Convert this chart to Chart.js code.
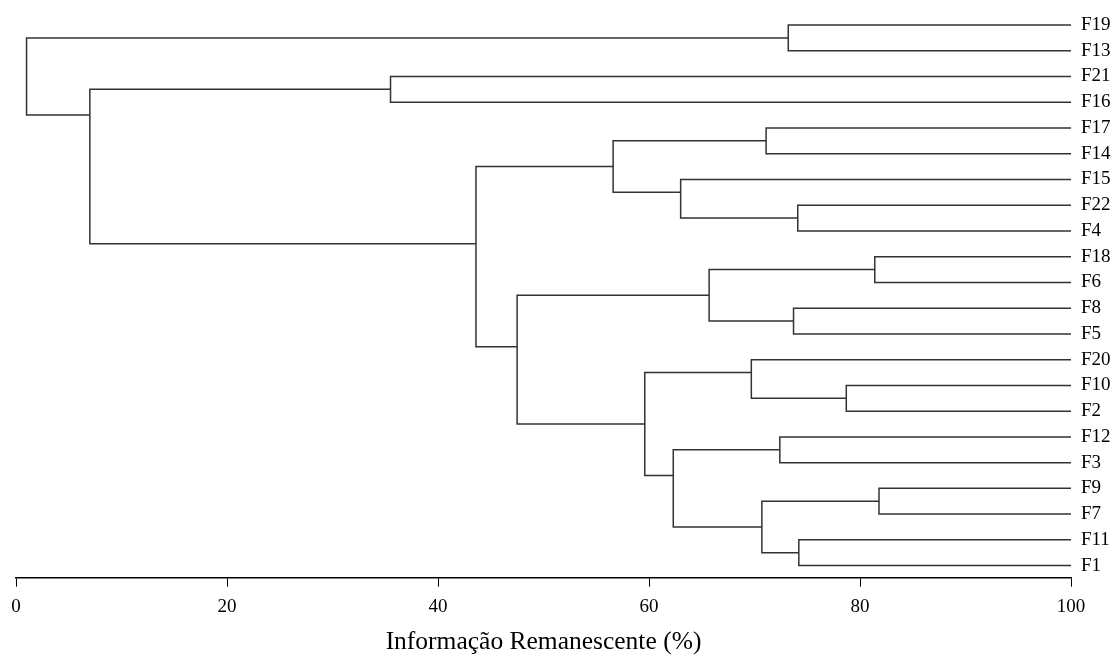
<!DOCTYPE html>
<html>
<head>
<meta charset="utf-8">
<script src="https://cdn.jsdelivr.net/npm/chart.js@4"></script>
<style>
  html, body { margin: 0; padding: 0; background: #fff; }
  #wrap { width: 1116px; height: 655px; position: relative; }
</style>
</head>
<body>
<div id="wrap"><canvas id="dendro"></canvas></div>
<script>
"use strict";

// leaves, top to bottom
const leaves = ["F19", "F13", "F21", "F16", "F17", "F14", "F15", "F22", "F4", "F18", "F6",
                "F8", "F5", "F20", "F10", "F2", "F12", "F3", "F9", "F7", "F11", "F1"];

// merge steps: children are leaf names or earlier merges (m1, m2, ...)
const mergeLeft  = ["F19", "F21", "F17", "F22", "F15", "m3", "F18", "F8", "m7", "F10", "F20",
                    "F12", "F9", "F11", "m13", "m12", "m11", "m9", "m6", "m2", "m1"];
const mergeRight = ["F13", "F16", "F14", "F4", "m4", "m5", "F6", "F5", "m8", "F2", "m10",
                    "F3", "F7", "F1", "m14", "m15", "m16", "m17", "m18", "m19", "m20"];
// informação remanescente (%) at each merge
const mergeHeight = [73.2, 35.5, 71.1, 74.1, 63.0, 56.6, 81.4, 73.7, 65.7, 78.7, 69.7,
                     72.4, 81.8, 74.2, 70.7, 62.3, 59.6, 47.5, 43.6, 7.0, 1.0];

const xTicks = [0, 20, 40, 60, 80, 100];

const LINE = "#333";
const SERIF = "'Liberation Serif', 'Times New Roman', serif";

// work out node positions: leaf at its row, merge between its two children
function buildSegments() {
    const nodes = {};
    leaves.forEach((name, i) => {
        nodes[name] = { first: i, last: i, pos: i, x: 100 };
    });

    const segs = [];
    mergeHeight.forEach((h, k) => {
        const a = nodes[mergeLeft[k]];
        const b = nodes[mergeRight[k]];
        nodes["m" + (k + 1)] = {
            first: a.first,
            last: b.last,
            pos: (a.last + b.first) / 2,
            x: h
        };
        segs.push([
            { x: a.x, y: a.pos },
            { x: h, y: a.pos },
            { x: h, y: b.pos },
            { x: b.x, y: b.pos }
        ]);
    });
    return segs;
}

const datasets = buildSegments().map(pts => ({
    data: pts,
    showLine: true,
    borderColor: LINE,
    borderWidth: 1.5,
    pointRadius: 0,
    tension: 0,
    clip: false
}));

new Chart(document.getElementById("dendro"), {
    type: "scatter",
    data: { datasets: datasets },
    options: {
        responsive: true,
        maintainAspectRatio: false,
        animation: false,
        layout: { padding: { top: 0, left: 16, right: 0, bottom: 0 } },
        plugins: {
            legend: { display: false },
            tooltip: { enabled: false }
        },
        scales: {
            x: {
                type: "linear",
                min: 0,
                max: 100,
                afterBuildTicks: s => { s.ticks = xTicks.map(v => ({ value: v })); },
                grid: { drawOnChartArea: false, drawTicks: true, tickLength: 9, color: "#000", lineWidth: 1 },
                border: { display: true, color: "#000", width: 1.5 },
                ticks: { color: "#000", padding: 9, font: { family: SERIF, size: 19 } },
                title: {
                    display: true,
                    text: "Informação Remanescente (%)",
                    color: "#000",
                    font: { family: SERIF, size: 25.5, lineHeight: 1 },
                    padding: { top: 2, bottom: 0 }
                }
            },
            y: {
                type: "linear",
                position: "right",
                reverse: true,
                min: -0.14,
                max: 21.47,
                afterBuildTicks: s => { s.ticks = leaves.map((_, i) => ({ value: i })); },
                afterFit: s => { s.width = 45; },
                grid: { display: false, drawTicks: false },
                border: { display: false },
                ticks: {
                    autoSkip: false,
                    color: "#000",
                    padding: 10,
                    font: { family: SERIF, size: 19 },
                    callback: v => leaves[v]
                }
            }
        }
    }
});
</script>
</body>
</html>
